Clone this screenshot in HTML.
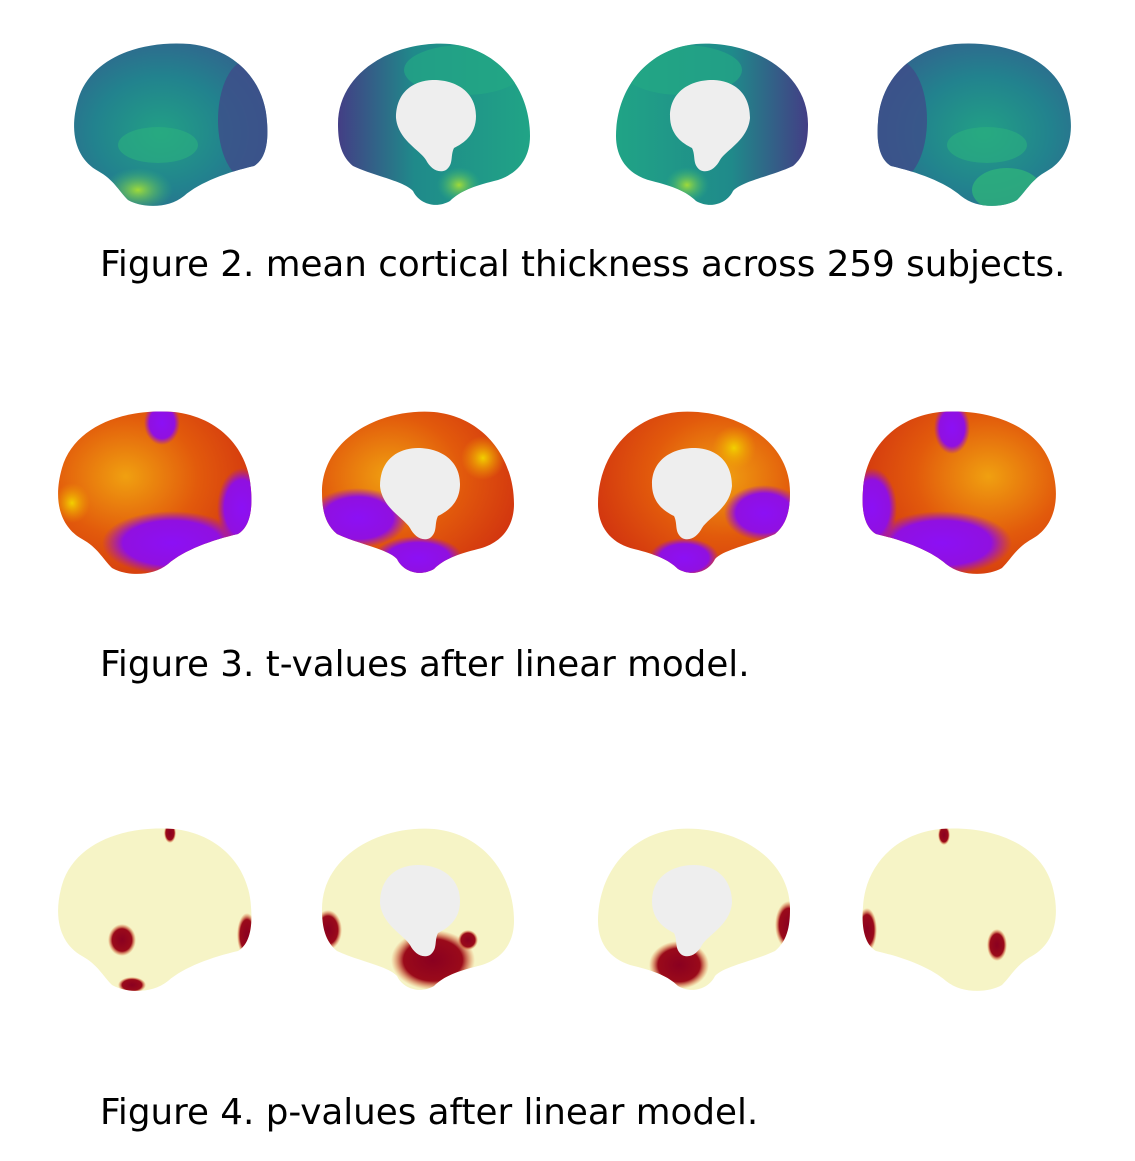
<!DOCTYPE html>
<html><head><meta charset="utf-8">
<style>
html,body{margin:0;padding:0;background:#fff;}
body{width:1135px;height:1161px;position:relative;overflow:hidden;font-family:"DejaVu Sans","Liberation Sans",sans-serif;}
.cap{position:absolute;left:100px;font-size:35.7px;color:#000;white-space:nowrap;line-height:1;}
svg{position:absolute;left:0;top:0;}
</style></head><body>
<svg width="1135" height="1161" viewBox="0 0 1135 1161">
<defs>
<path id="lat" d="M10,60 C22,18 72,0 122,4 C168,9 197,42 199,82 C201,106 196,120 186,126 C160,132 132,142 116,156 C100,169 74,168 60,160 C50,150 46,140 30,131 C10,120 0,95 10,60 Z"/>
<path id="med" d="M4,84 C4,32 60,0 116,4 C166,9 196,50 196,96 C196,121 181,136 160,141 C140,146 126,151 116,161 C100,170 84,162 79,151 C70,141 40,136 19,126 C7,116 4,102 4,84 Z"/>
<path id="hole" d="M62,78 C62,50 82,40 100,40 C122,40 142,52 142,76 C142,96 128,104 120,108 C116,116 120,124 112,130 C104,134 96,128 92,120 C86,110 64,100 62,78 Z"/>
<radialGradient id="v1" cx="0.45" cy="0.55" r="0.7"><stop offset="0" stop-color="#22a085"/><stop offset="0.5" stop-color="#22828e"/><stop offset="1" stop-color="#365c8d"/></radialGradient>
<linearGradient id="v2" x1="0" y1="0" x2="1" y2="0"><stop offset="0" stop-color="#433e85"/><stop offset="0.4" stop-color="#1f8a8a"/><stop offset="1" stop-color="#20a486"/></linearGradient>
<radialGradient id="vp" cx="0.5" cy="0.5" r="0.5"><stop offset="0" stop-color="#a0da39"/><stop offset="1" stop-color="#35b779" stop-opacity="0"/></radialGradient>
<radialGradient id="t1" cx="0.35" cy="0.4" r="0.75"><stop offset="0" stop-color="#f0a010"/><stop offset="0.5" stop-color="#e25a0c"/><stop offset="1" stop-color="#d03010"/></radialGradient>
<radialGradient id="tp" cx="0.5" cy="0.5" r="0.5"><stop offset="0" stop-color="#8c10f5"/><stop offset="0.7" stop-color="#9010e0"/><stop offset="1" stop-color="#a010c0" stop-opacity="0"/></radialGradient>
<radialGradient id="ty" cx="0.5" cy="0.5" r="0.5"><stop offset="0" stop-color="#f2d000"/><stop offset="1" stop-color="#f0a000" stop-opacity="0"/></radialGradient>
<radialGradient id="pr" cx="0.5" cy="0.5" r="0.5"><stop offset="0" stop-color="#8a0020"/><stop offset="0.7" stop-color="#9a0a1a"/><stop offset="1" stop-color="#e06020" stop-opacity="0"/></radialGradient>
<clipPath id="cl"><use href="#lat"/></clipPath>
<clipPath id="cm"><use href="#med"/></clipPath>
</defs>

<g transform="translate(68,40)">
 <use href="#lat" fill="url(#v1)"/>
 <g clip-path="url(#cl)"><ellipse cx="180" cy="80" rx="30" ry="60" fill="#3e4c8a" opacity="0.8"/><ellipse cx="70" cy="150" rx="35" ry="22" fill="url(#vp)"/><ellipse cx="90" cy="105" rx="40" ry="18" fill="#2bb07f" opacity="0.6"/></g>
</g>
<g transform="translate(334,40)">
 <use href="#med" fill="url(#v2)"/>
 <g clip-path="url(#cm)"><ellipse cx="130" cy="30" rx="60" ry="25" fill="#23a884" opacity="0.7"/><ellipse cx="125" cy="145" rx="22" ry="18" fill="url(#vp)"/></g>
 <use href="#hole" fill="#eeeeee"/>
</g>
<g transform="translate(812,40) scale(-1,1)">
 <use href="#med" fill="url(#v2)"/>
 <g clip-path="url(#cm)"><ellipse cx="130" cy="30" rx="60" ry="25" fill="#23a884" opacity="0.7"/><ellipse cx="125" cy="145" rx="22" ry="18" fill="url(#vp)"/></g>
 <use href="#hole" fill="#eeeeee"/>
</g>
<g transform="translate(1077,40) scale(-1,1)">
 <use href="#lat" fill="url(#v1)"/>
 <g clip-path="url(#cl)"><ellipse cx="180" cy="80" rx="30" ry="60" fill="#3e4c8a" opacity="0.8"/><ellipse cx="70" cy="150" rx="35" ry="22" fill="#2eb27c" opacity="0.8"/><ellipse cx="90" cy="105" rx="40" ry="18" fill="#2bb07f" opacity="0.6"/></g>
</g>

<g transform="translate(52,408)">
 <use href="#lat" fill="url(#t1)"/>
 <g clip-path="url(#cl)"><ellipse cx="120" cy="135" rx="70" ry="32" fill="url(#tp)"/><ellipse cx="190" cy="100" rx="25" ry="40" fill="url(#tp)"/><ellipse cx="110" cy="15" rx="18" ry="22" fill="url(#tp)"/><ellipse cx="20" cy="95" rx="18" ry="20" fill="url(#ty)"/></g>
</g>
<g transform="translate(318,408)">
 <use href="#med" fill="url(#t1)"/>
 <g clip-path="url(#cm)"><ellipse cx="40" cy="110" rx="50" ry="30" fill="url(#tp)"/><ellipse cx="100" cy="150" rx="45" ry="22" fill="url(#tp)"/><ellipse cx="165" cy="50" rx="22" ry="22" fill="url(#ty)"/></g>
 <use href="#hole" fill="#eeeeee"/>
</g>
<g transform="translate(794,408) scale(-1,1)">
 <use href="#med" fill="url(#t1)"/>
 <g clip-path="url(#cm)"><ellipse cx="30" cy="105" rx="40" ry="28" fill="url(#tp)"/><ellipse cx="110" cy="150" rx="35" ry="20" fill="url(#tp)"/><ellipse cx="60" cy="40" rx="22" ry="22" fill="url(#ty)"/></g>
 <use href="#hole" fill="#eeeeee"/>
</g>
<g transform="translate(1062,408) scale(-1,1)">
 <use href="#lat" fill="url(#t1)"/>
 <g clip-path="url(#cl)"><ellipse cx="120" cy="135" rx="70" ry="32" fill="url(#tp)"/><ellipse cx="190" cy="100" rx="25" ry="40" fill="url(#tp)"/><ellipse cx="110" cy="20" rx="18" ry="26" fill="url(#tp)"/></g>
</g>

<g transform="translate(52,825)">
 <use href="#lat" fill="#f6f4c6"/>
 <g clip-path="url(#cl)"><ellipse cx="195" cy="110" rx="10" ry="22" fill="url(#pr)"/><ellipse cx="70" cy="115" rx="14" ry="16" fill="url(#pr)"/><ellipse cx="80" cy="160" rx="14" ry="8" fill="url(#pr)"/><ellipse cx="118" cy="8" rx="6" ry="10" fill="url(#pr)"/></g>
</g>
<g transform="translate(318,825)">
 <use href="#med" fill="#f6f4c6"/>
 <g clip-path="url(#cm)"><ellipse cx="10" cy="105" rx="14" ry="20" fill="url(#pr)"/><ellipse cx="115" cy="135" rx="42" ry="30" fill="url(#pr)"/><ellipse cx="150" cy="115" rx="10" ry="10" fill="url(#pr)"/></g>
 <use href="#hole" fill="#eeeeee"/>
</g>
<g transform="translate(794,825) scale(-1,1)">
 <use href="#med" fill="#f6f4c6"/>
 <g clip-path="url(#cm)"><ellipse cx="5" cy="100" rx="14" ry="24" fill="url(#pr)"/><ellipse cx="115" cy="140" rx="30" ry="24" fill="url(#pr)"/></g>
 <use href="#hole" fill="#eeeeee"/>
</g>
<g transform="translate(1062,825) scale(-1,1)">
 <use href="#lat" fill="#f6f4c6"/>
 <g clip-path="url(#cl)"><ellipse cx="195" cy="105" rx="10" ry="22" fill="url(#pr)"/><ellipse cx="65" cy="120" rx="10" ry="16" fill="url(#pr)"/><ellipse cx="118" cy="10" rx="6" ry="10" fill="url(#pr)"/></g>
</g>
</svg>
<div class="cap" style="top:247px;">Figure 2. mean cortical thickness across 259 subjects.</div>
<div class="cap" style="top:647px;">Figure 3. t-values after linear model.</div>
<div class="cap" style="top:1095px;">Figure 4. p-values after linear model.</div>
</body></html>
